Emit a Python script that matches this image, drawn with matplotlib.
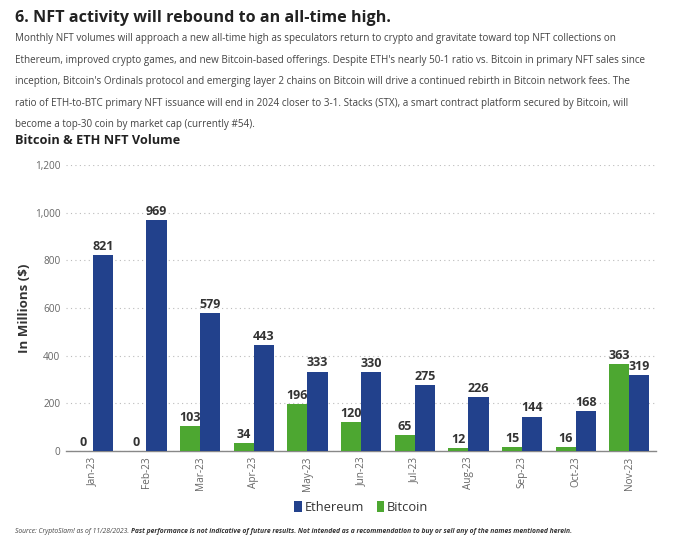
import matplotlib
matplotlib.use("Agg")
import matplotlib.pyplot as plt
import numpy as np

months = ["Jan-23", "Feb-23", "Mar-23", "Apr-23", "May-23", "Jun-23",
          "Jul-23", "Aug-23", "Sep-23", "Oct-23", "Nov-23"]
ethereum = [821, 969, 579, 443, 333, 330, 275, 226, 144, 168, 319]
bitcoin = [0, 0, 103, 34, 196, 120, 65, 12, 15, 16, 363]
yticks = [0, 200, 400, 600, 800, 1000, 1200]

ETH_C = "#22418C"
BTC_C = "#4DA731"
TXT = "#333333"

plt.rcParams['font.family'] = ['Open Sans', 'DejaVu Sans']

fig = plt.figure(figsize=(6.8, 5.46), dpi=100)
ax = fig.add_axes([0.097, 0.174, 0.868, 0.524])

x = np.arange(len(months))
w = 0.375
bb = ax.bar(x - w / 2, bitcoin, w, color=BTC_C, label="Bitcoin", zorder=3)
eb = ax.bar(x + w / 2, ethereum, w, color=ETH_C, label="Ethereum", zorder=3)

for rect, v in zip(bb, bitcoin):
    ax.text(rect.get_x() + rect.get_width() / 2, v + 10, f"{v}", ha="center",
            va="bottom", fontsize=9, fontweight="bold", color=TXT)
for rect, v in zip(eb, ethereum):
    ax.text(rect.get_x() + rect.get_width() / 2, v + 10, f"{v}", ha="center",
            va="bottom", fontsize=9, fontweight="bold", color=TXT)

ax.set_xlim(-0.5, len(months) - 0.5)
ax.set_ylim(0, 1200)
ax.set_yticks(yticks)
ax.set_yticklabels([f"{t:,}" for t in yticks], fontsize=7.2, color="#666666")
ax.set_xticks(x)
ax.set_xticklabels(months, rotation=90, fontsize=7.2, color="#666666")
ax.tick_params(axis="both", length=0, pad=4)
ax.grid(axis="y", linestyle=(0, (1, 3)), color="#bbbbbb", linewidth=0.8, zorder=0)
for s in ["top", "right", "left"]:
    ax.spines[s].set_visible(False)
ax.spines["bottom"].set_color("#888888")
ax.spines["bottom"].set_linewidth(1.0)
ax.set_ylabel("In Millions ($)", fontsize=9.5, fontweight="bold", color=TXT, labelpad=3)

handles = [eb, bb]
leg = fig.legend(handles, ["Ethereum", "Bitcoin"], loc="center", bbox_to_anchor=(0.531, 0.071),
                 ncol=2, frameon=False, fontsize=9.3, handlelength=0.6, handleheight=0.9,
                 handletextpad=0.2, columnspacing=1.0)
for t in leg.get_texts():
    t.set_color(TXT)

fig.text(0.022, 0.967, "6. NFT activity will rebound to an all-time high.", fontsize=11.6,
         fontweight="bold", color="#222222", va="center", ha="left")

para = ("Monthly NFT volumes will approach a new all-time high as speculators return to crypto and gravitate toward top NFT collections on\n"
        "Ethereum, improved crypto games, and new Bitcoin-based offerings. Despite ETH's nearly 50-1 ratio vs. Bitcoin in primary NFT sales since\n"
        "inception, Bitcoin's Ordinals protocol and emerging layer 2 chains on Bitcoin will drive a continued rebirth in Bitcoin network fees. The\n"
        "ratio of ETH-to-BTC primary NFT issuance will end in 2024 closer to 3-1. Stacks (STX), a smart contract platform secured by Bitcoin, will\n"
        "become a top-30 coin by market cap (currently #54).")
fig.text(0.022, 0.939, para, fontsize=7.15, color="#444444", va="top", ha="left", linespacing=2.3)

fig.text(0.022, 0.742, "Bitcoin & ETH NFT Volume", fontsize=9.2, fontweight="bold",
         color="#222222", va="center", ha="left")

t1 = fig.text(0.022, 0.026, "Source: CryptoSlam! as of 11/28/2023. ", fontsize=4.85, style="italic",
              color="#444444", va="center", ha="left")
fig.canvas.draw()
bbox = t1.get_window_extent(renderer=fig.canvas.get_renderer())
x2 = bbox.x1 / fig.bbox.width
fig.text(x2, 0.026, "Past performance is not indicative of future results. Not intended as a recommendation to buy or sell any of the names mentioned herein.",
         fontsize=4.85, style="italic", fontweight="bold", color="#333333", va="center", ha="left")

fig.savefig("out.png", dpi=100, facecolor="white")
